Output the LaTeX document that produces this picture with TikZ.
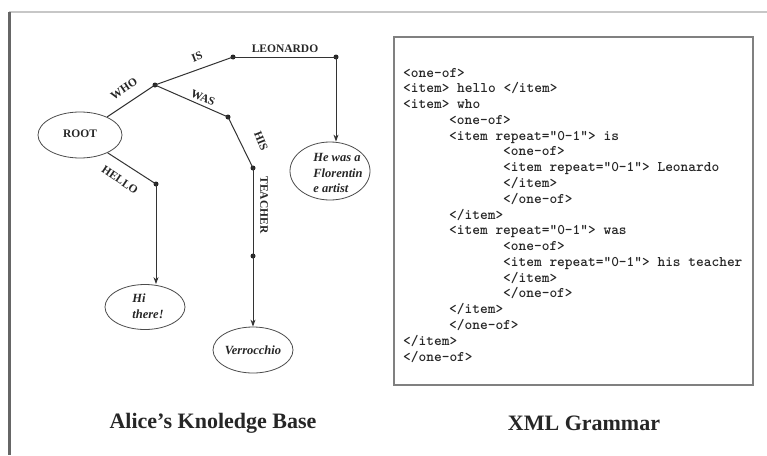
\documentclass[tikz,border=0pt]{standalone}
\usepackage{fontspec}
\setmainfont{Liberation Serif}
\usetikzlibrary{arrows.meta,shapes.geometric}
\begin{document}
\begin{tikzpicture}[x=1pt,y=-1pt,
  edge/.style={draw=black!80,line width=1pt},
  arr/.style={edge,-{Stealth[length=7pt,width=5pt]}},
  dot/.style={circle,fill=black!85,inner sep=0pt,minimum size=5pt},
  ell/.style={ellipse,draw=black!70,line width=0.8pt,inner sep=0pt},
  etext/.style={font=\bfseries\itshape\fontsize{12.5}{15.5}\selectfont,align=left,inner sep=0pt,text=black!85},
  lab/.style={font=\bfseries\fontsize{11.5}{12}\selectfont,inner sep=0pt,text=black!85},
  xml/.style={font=\ttfamily\bfseries\fontsize{14.7}{15}\selectfont,anchor=base west,inner sep=0pt,text=black!85},
  captext/.style={font=\bfseries\fontsize{22}{24}\selectfont,inner sep=0pt,text=black!85}]
\useasboundingbox (0,0) rectangle (767,455);
\fill[white] (0,0) rectangle (767,455);
% frame lines
\coordinate (tl) at (9,12);
\coordinate (tr) at (767,12);
\coordinate (bl) at (9,455);
\draw[black!22,line width=1.5pt] (tl) -- (tr);
\draw[black!60,line width=3pt] (tl) -- (bl);
% tree nodes
\node[ell,minimum width=84pt,minimum height=46pt] (root) at (80,135) {};
\node[lab] (roottext) at (80,134) {ROOT};
\node[dot] (who) at (155,85) {};
\node[dot] (isd) at (233,57) {};
\node[dot] (leo) at (336,57) {};
\node[dot] (was) at (228,117) {};
\node[dot] (his) at (253,168) {};
\node[dot] (tea) at (253,256) {};
\node[dot] (hel) at (156,184) {};
\node[ell,minimum width=80pt,minimum height=58pt] (flor) at (330,171) {};
\node[etext] (flortext) at (338,173) {He was a\\Florentin\\e artist};
\node[ell,minimum width=80pt,minimum height=45pt] (hi) at (145,307) {};
\node[etext] (hitext) at (148,306) {Hi\\there!};
\node[ell,minimum width=80pt,minimum height=46pt] (ver) at (253,350) {};
\node[etext] (vertext) at (253,350) {Verrocchio};
% connectors
\draw[edge] (root) -- (who.center);
\draw[edge] (who.center) -- (isd.center);
\draw[edge] (isd.center) -- (leo.center);
\draw[arr] (leo.center) -- (leo |- flor.north);
\draw[edge] (who.center) -- (was.center);
\draw[edge] (was.center) -- (his.center);
\draw[edge] (his.center) -- (tea.center);
\draw[arr] (tea.center) -- (ver);
\draw[edge] (root) -- (hel.center);
\draw[arr] (hel.center) -- (hel |- hi.north);
% edge labels
\node[lab,rotate=34] (lwho) at (124,89) {WHO};
\node[lab,rotate=21] (lis) at (197,57) {IS};
\node[lab] (lleo) at (285,49) {LEONARDO};
\node[lab,rotate=-22] (lwas) at (203,98) {WAS};
\node[lab,rotate=-68] (lhis) at (261,141) {HIS};
\node[lab,rotate=-90] (ltea) at (264,205) {TEACHER};
\node[lab,rotate=-34] (lhel) at (120,180) {HELLO};
% XML box
\node[draw=black!50,line width=1.2pt,minimum width=359pt,minimum height=348pt,inner sep=0pt] (box) at (573.5,211) {};
\node[xml] (x1) at (403,{77+0*15.78}) {<one-of>};
\node[xml] (x2) at (403,{77+1*15.78}) {<item> hello </item>};
\node[xml] (x3) at (403,{77+2*15.78}) {<item> who};
\node[xml] (x4) at (449,{77+3*15.78}) {<one-of>};
\node[xml] (x5) at (449,{77+4*15.78}) {<item repeat="0-1"> is};
\node[xml] (x6) at (503,{77+5*15.78}) {<one-of>};
\node[xml] (x7) at (503,{77+6*15.78}) {<item repeat="0-1"> Leonardo};
\node[xml] (x8) at (503,{77+7*15.78}) {</item>};
\node[xml] (x9) at (503,{77+8*15.78}) {</one-of>};
\node[xml] (x10) at (449,{77+9*15.78}) {</item>};
\node[xml] (x11) at (449,{77+10*15.78}) {<item repeat="0-1"> was};
\node[xml] (x12) at (503,{77+11*15.78}) {<one-of>};
\node[xml] (x13) at (503,{77+12*15.78}) {<item repeat="0-1"> his teacher};
\node[xml] (x14) at (503,{77+13*15.78}) {</item>};
\node[xml] (x15) at (503,{77+14*15.78}) {</one-of>};
\node[xml] (x16) at (449,{77+15*15.78}) {</item>};
\node[xml] (x17) at (449,{77+16*15.78}) {</one-of>};
\node[xml] (x18) at (403,{77+17*15.78}) {</item>};
\node[xml] (x19) at (403,{77+18*15.78}) {</one-of>};
% captions
\node[captext] (cap1) at (213,423) {Alice's Knoledge Base};
\node[captext] (cap2) at (584,423) {XML Grammar};
\end{tikzpicture}
\end{document}
